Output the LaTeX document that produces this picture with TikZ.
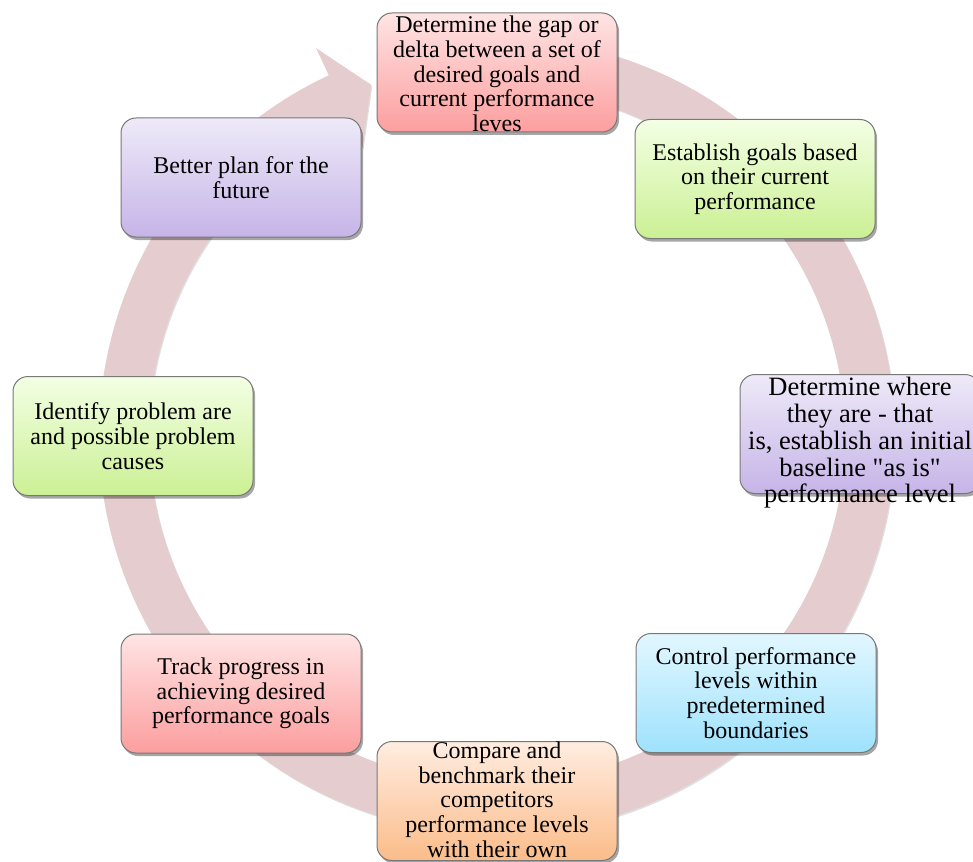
\documentclass[tikz,border=0pt]{standalone}
\usepackage{fontspec}
\setmainfont{Liberation Serif}
\usetikzlibrary{shadows}
\definecolor{ringc}{RGB}{229,205,207}
\definecolor{redtop}{RGB}{255,228,228}
\definecolor{redbot}{RGB}{252,158,158}
\definecolor{greentop}{RGB}{243,255,228}
\definecolor{greenbot}{RGB}{203,240,148}
\definecolor{purpletop}{RGB}{238,234,248}
\definecolor{purplebot}{RGB}{198,180,232}
\definecolor{cyantop}{RGB}{226,247,255}
\definecolor{cyanbot}{RGB}{158,226,252}
\definecolor{orangetop}{RGB}{255,237,224}
\definecolor{orangebot}{RGB}{251,188,138}
\definecolor{edgec}{RGB}{120,120,120}
\tikzset{
  boxshape/.style={rectangle, rounded corners=15pt, draw=edgec, line width=1pt,
    minimum width=240pt, minimum height=119pt, inner sep=0pt,
    drop shadow={shadow xshift=2pt, shadow yshift=-3pt, opacity=0.35, fill=black}},
  redbox/.style={boxshape, top color=redtop, bottom color=redbot},
  greenbox/.style={boxshape, top color=greentop, bottom color=greenbot},
  purplebox/.style={boxshape, top color=purpletop, bottom color=purplebot},
  cyanbox/.style={boxshape, top color=cyantop, bottom color=cyanbot},
  orangebox/.style={boxshape, top color=orangetop, bottom color=orangebot},
  txt/.style={align=center, inner sep=0pt, font=\fontsize{24}{24.7}\selectfont, text=black},
  bigtxt/.style={txt, font=\fontsize{26.5}{26.7}\selectfont}
}
\begin{document}
\begin{tikzpicture}[x=1pt,y=1pt]
\useasboundingbox (0,0) rectangle (973,-861);
% ring with arrow
\begin{scope}[shift={(497,-436)}]
\fill[ringc, drop shadow={shadow xshift=1pt, shadow yshift=-1.5pt, opacity=0.12, fill=black}]
  (75:398) arc[start angle=75, end angle=-245, radius=398pt]
  -- (-245:428) -- (-250.3:373) -- (-245:318) -- (-245:348)
  arc[start angle=-245, end angle=75, radius=348pt] -- cycle;
\end{scope}
% boxes
\node[redbox] (b1) at (497,-72.5) {};
\node[greenbox] (b2) at (755,-179) {};
\node[purplebox] (b3) at (860,-434) {};
\node[cyanbox] (b4) at (756,-693) {};
\node[orangebox] (b5) at (497,-801) {};
\node[redbox] (b6) at (241,-693.5) {};
\node[greenbox] (b7) at (133,-436) {};
\node[purplebox] (b8) at (241,-177.5) {};
% texts
\node[txt] (t1) at ([yshift=-1.5pt]b1.center) {Determine the gap or\\delta between a set of\\desired goals and\\current performance\\leves};
\node[txt] (t2) at (b2.center) {Establish goals based\\on their current\\performance};
\node[bigtxt] (t3) at ([yshift=-9pt]b3.center) {Determine where\\they are - that\\is, establish an initial\\baseline \textquotedbl as is\textquotedbl\\performance level};
\node[txt] (t4) at (b4.center) {Control performance\\levels within\\predetermined\\boundaries};
\node[txt] (t5) at ([yshift=1.5pt]b5.center) {Compare and\\benchmark their\\competitors\\performance levels\\with their own};
\node[txt] (t6) at (b6.center) {Track progress in\\achieving desired\\performance goals};
\node[txt] (t7) at (b7.center) {Identify problem are\\and possible problem\\causes};
\node[txt] (t8) at (b8.center) {Better plan for the\\future};
\end{tikzpicture}
\end{document}
